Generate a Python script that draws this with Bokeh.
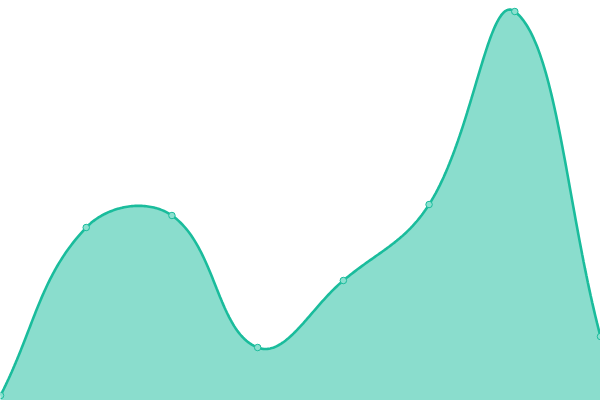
import numpy as np
from bokeh.plotting import figure
from bokeh.embed import file_html
from bokeh.resources import INLINE
from bokeh.models import Range1d

# data
categories = [0, 1, 2, 3, 4, 5, 6, 7]
values = [1.25, 43.25, 46.25, 13.25, 30.0, 49.0, 97.25, 16.0]

W, H = 600, 400
x_min, x_max = 0, 7
y_min, y_max = 0, 100

sx = W / (x_max - x_min)
sy = H / (y_max - y_min)


def spline(xs, ys, tension=0.4, n=60):
    # Chart.js-like cardinal spline, computed in pixel-proportional space
    px = np.array(xs, float) * sx
    py = np.array(ys, float) * sy
    m = len(px)
    cp_prev = np.zeros((m, 2))
    cp_next = np.zeros((m, 2))
    for i in range(m):
        prev = (px[max(i - 1, 0)], py[max(i - 1, 0)])
        cur = (px[i], py[i])
        nxt = (px[min(i + 1, m - 1)], py[min(i + 1, m - 1)])
        d01 = np.hypot(cur[0] - prev[0], cur[1] - prev[1])
        d12 = np.hypot(nxt[0] - cur[0], nxt[1] - cur[1])
        s01 = d01 / (d01 + d12) if d01 + d12 else 0
        s12 = d12 / (d01 + d12) if d01 + d12 else 0
        fa = tension * s01
        fb = tension * s12
        cp_prev[i] = (cur[0] - fa * (nxt[0] - prev[0]), cur[1] - fa * (nxt[1] - prev[1]))
        cp_next[i] = (cur[0] + fb * (nxt[0] - prev[0]), cur[1] + fb * (nxt[1] - prev[1]))
    outx, outy = [], []
    t = np.linspace(0, 1, n)
    for i in range(m - 1):
        p0 = np.array([px[i], py[i]])
        p1 = cp_next[i]
        p2 = cp_prev[i + 1]
        p3 = np.array([px[i + 1], py[i + 1]])
        b = ((1 - t) ** 3)[:, None] * p0 + (3 * (1 - t) ** 2 * t)[:, None] * p1 \
            + (3 * (1 - t) * t ** 2)[:, None] * p2 + (t ** 3)[:, None] * p3
        if i > 0:
            b = b[1:]
        outx.extend(b[:, 0] / sx)
        outy.extend(b[:, 1] / sy)
    return np.array(outx), np.array(outy)


cx, cy = spline(categories, values)

p = figure(width=W, height=H, output_backend="svg", toolbar_location=None,
           x_range=Range1d(x_min, x_max), y_range=Range1d(y_min, y_max),
           min_border=0, min_border_left=0, min_border_right=0,
           min_border_top=0, min_border_bottom=0,
           styles={"position": "fixed", "top": "0px", "left": "0px"})
p.axis.visible = False
p.grid.visible = False
p.outline_line_color = None
p.background_fill_color = "white"
p.border_fill_color = "white"

p.varea(x=cx, y1=np.zeros_like(cy), y2=cy, fill_color="#1abc9c", fill_alpha=0.51)
p.line(cx, cy, line_color="#1abc9c", line_width=2.6)
p.scatter(categories, values, size=6.5, fill_color="#8be0cf", line_color="#1abc9c",
          line_width=1)

open("out.html", "w").write(file_html(p, INLINE))
